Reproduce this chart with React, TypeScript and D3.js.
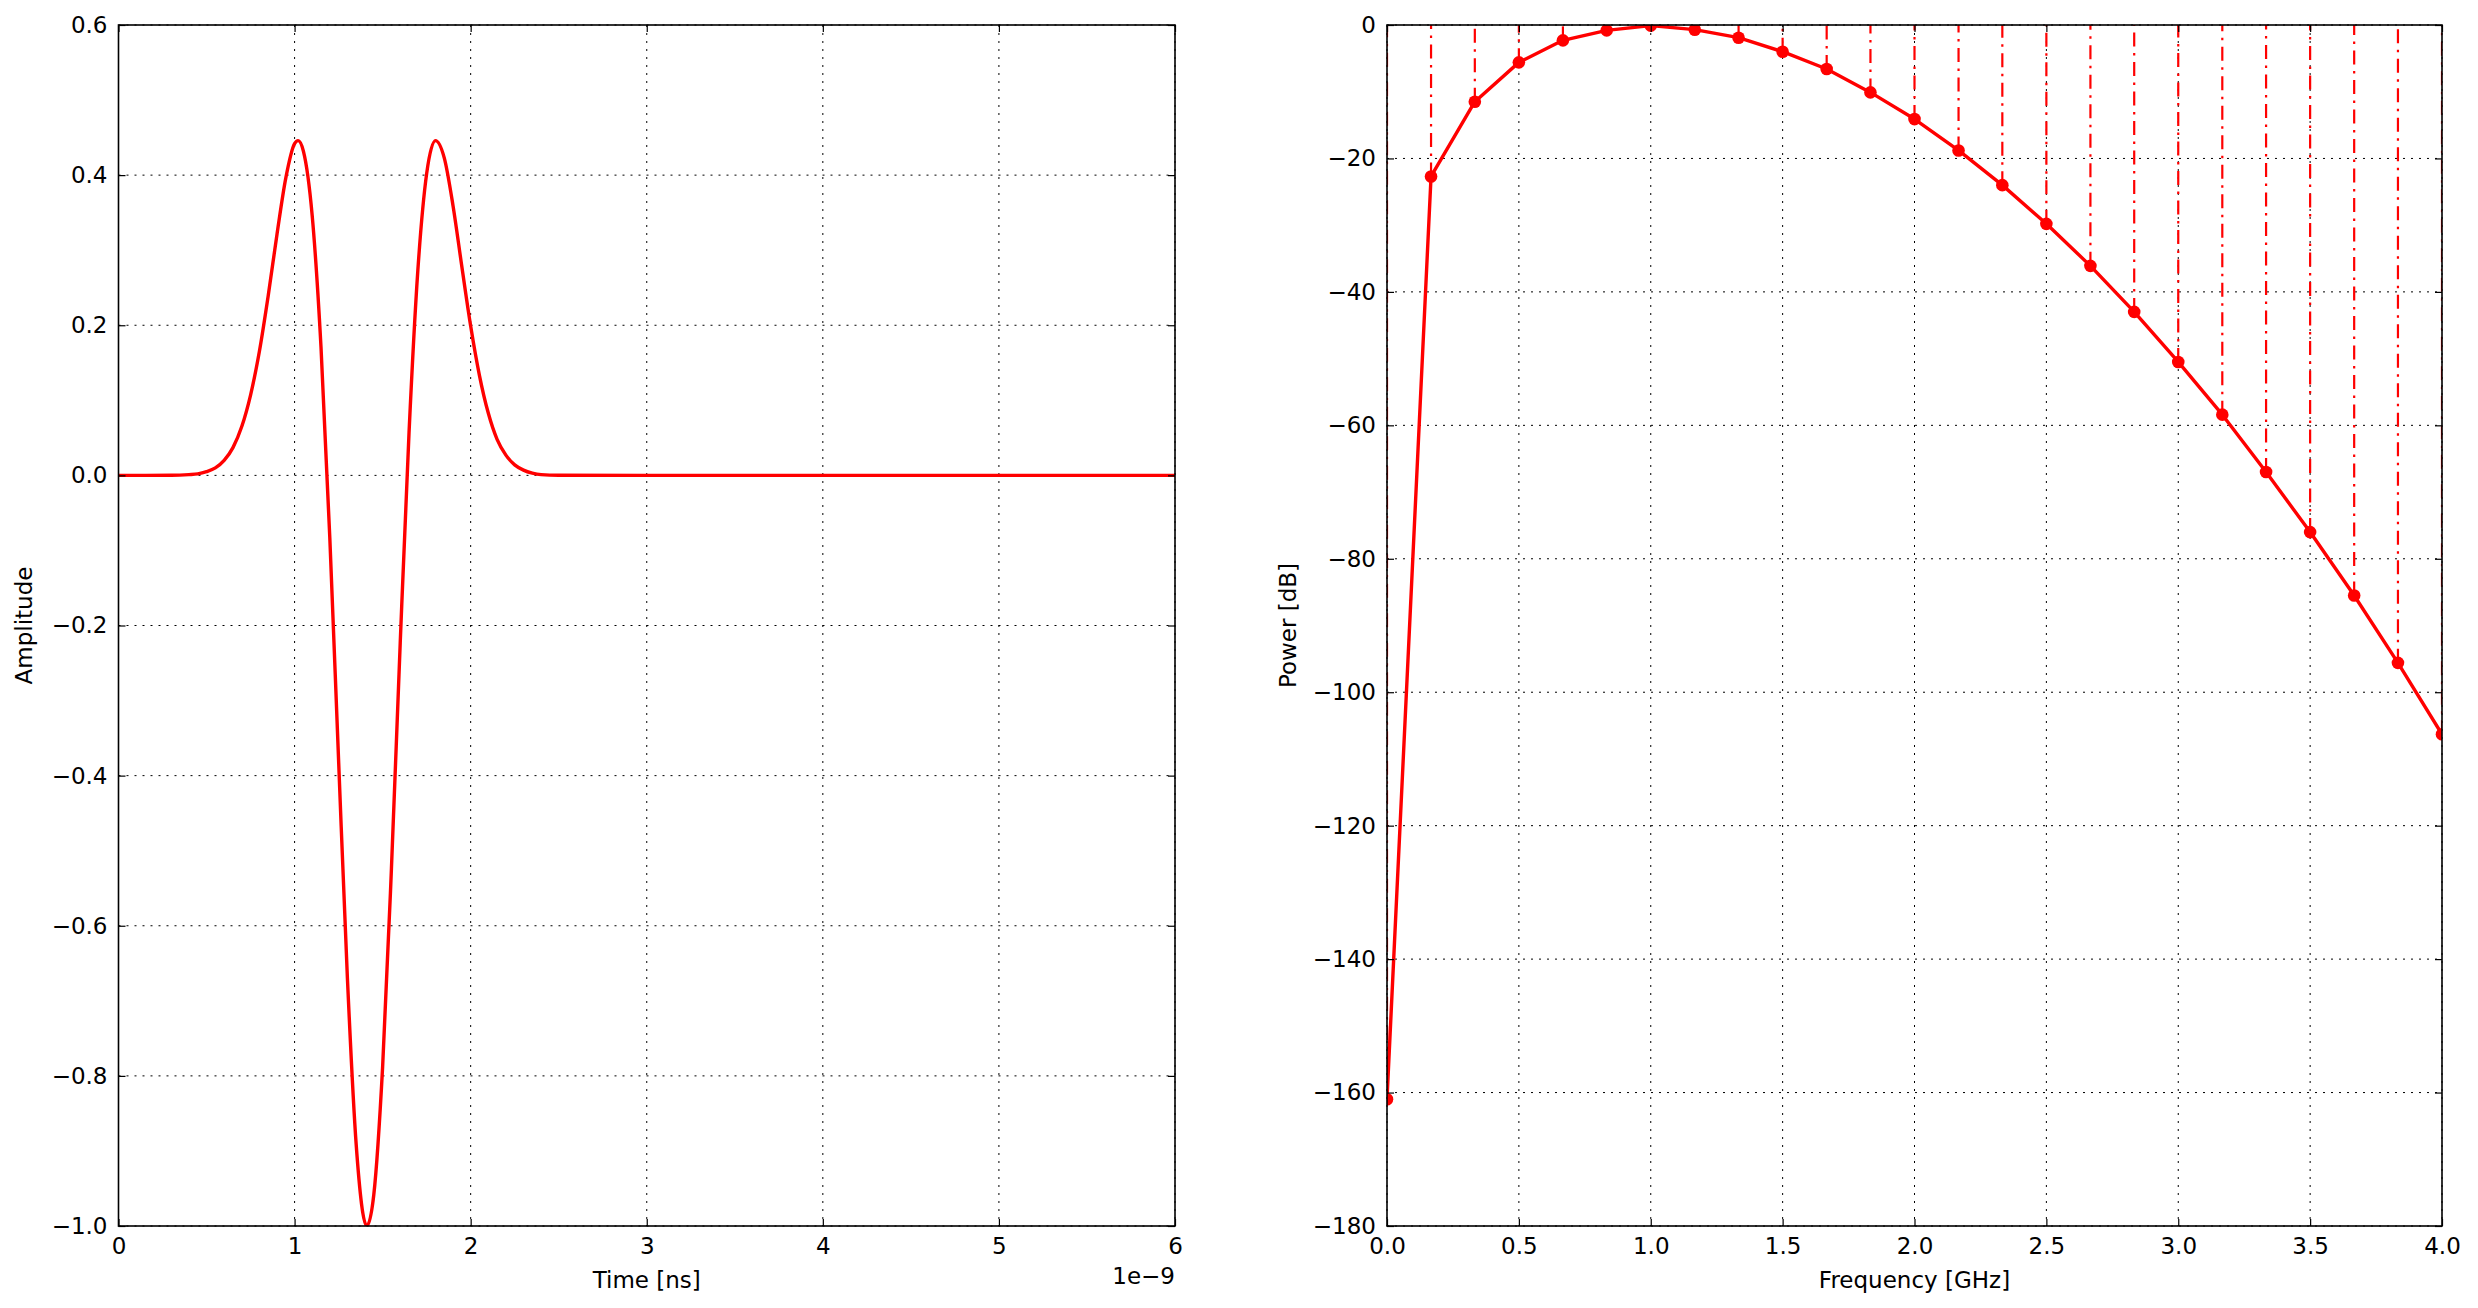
import { useEffect, useRef } from "react";
import * as d3 from "d3";

// Left panel: pulse (time in ns, amplitude)
const pulseTime = [
  0, 0.3, 0.4, 0.45, 0.5, 0.55, 0.6, 0.65, 0.7, 0.75, 0.8, 0.85, 0.9, 0.95, 1.0,
  1.02, 1.05, 1.1, 1.15, 1.2, 1.25, 1.3, 1.35, 1.41, 1.45, 1.5, 1.55, 1.6, 1.65,
  1.7, 1.75, 1.8, 1.85, 1.9, 1.95, 2.0, 2.05, 2.1, 2.15, 2.2, 2.25, 2.3, 2.35,
  2.4, 2.5, 3.0, 4.0, 5.0, 6.0,
];
const pulseAmp = [
  0, 0.0001, 0.001, 0.002, 0.005, 0.01, 0.02, 0.037, 0.065, 0.107, 0.165, 0.239,
  0.321, 0.396, 0.442, 0.446, 0.432, 0.346, 0.171, -0.083, -0.38, -0.67, -0.892,
  -1.0, -0.958, -0.788, -0.524, -0.223, 0.057, 0.273, 0.402, 0.446, 0.423, 0.359,
  0.278, 0.199, 0.133, 0.083, 0.048, 0.027, 0.014, 0.007, 0.003, 0.001, 0.0002,
  0, 0, 0, 0,
];

// Right panel: spectrum samples (GHz, dB)
const freqGHz = [
  0, 0.167, 0.333, 0.5, 0.667, 0.833, 1.0, 1.167, 1.333, 1.5, 1.667, 1.833, 2.0,
  2.167, 2.333, 2.5, 2.667, 2.833, 3.0, 3.167, 3.333, 3.5, 3.667, 3.833, 4.0,
];
const powerDb = [
  -161, -22.7, -11.5, -5.6, -2.3, -0.8, -0.1, -0.7, -1.9, -4.0, -6.6, -10.1,
  -14.1, -18.8, -24.0, -29.8, -36.1, -43.0, -50.5, -58.4, -67.0, -76.0, -85.5,
  -95.6, -106.3,
];

const timeTicks = [0, 1, 2, 3, 4, 5, 6];
const ampTicks = [0.6, 0.4, 0.2, 0.0, -0.2, -0.4, -0.6, -0.8, -1.0];
const freqTicks = [0, 0.5, 1.0, 1.5, 2.0, 2.5, 3.0, 3.5, 4.0];
const powerTicks = [0, -20, -40, -60, -80, -100, -120, -140, -160, -180];

const W = 2478;
const H = 1308;
const top = 25;
const bottom = 1226;
const leftBox = { x0: 118.5, x1: 1175 };
const rightBox = { x0: 1387, x1: 2442 };
const font = "DejaVu Sans";
const fs = 23;
const red = "#ff0000";

type G = d3.Selection<SVGGElement, unknown, null, undefined>;

function drawFrame(
  g: G,
  x: d3.ScaleLinear<number, number>,
  y: d3.ScaleLinear<number, number>,
  xTicks: number[],
  yTicks: number[],
  xFmt: (d: number) => string,
  yFmt: (d: number) => string
) {
  const [x0, x1] = x.range();
  const [y1, y0] = y.range();

  // ticks inside on all four sides
  const axes = [
    { ax: d3.axisBottom(x).tickValues(xTicks).tickFormat((d) => xFmt(+d)), tr: `translate(0,${y1})` },
    { ax: d3.axisTop(x).tickValues(xTicks).tickFormat(() => ""), tr: `translate(0,${y0})` },
    { ax: d3.axisLeft(y).tickValues(yTicks).tickFormat((d) => yFmt(+d)), tr: `translate(${x0},0)` },
    { ax: d3.axisRight(y).tickValues(yTicks).tickFormat(() => ""), tr: `translate(${x1},0)` },
  ];
  axes.forEach(({ ax, tr }, i) => {
    const a = g
      .append("g")
      .attr("transform", tr)
      .call(ax.tickSizeInner(-7).tickSizeOuter(0).tickPadding(i === 2 ? 11 : 11.5));
    a.select(".domain").remove();
    a.selectAll("line").attr("stroke", "#000").attr("stroke-width", 1.2);
    a.selectAll("text")
      .attr("fill", "#000")
      .style("font-family", font)
      .style("font-size", `${fs}px`);
  });

  g.append("rect")
    .attr("x", x0)
    .attr("y", y0)
    .attr("width", x1 - x0)
    .attr("height", y1 - y0)
    .attr("fill", "none")
    .attr("stroke", "#000")
    .attr("stroke-width", 1.6);
}

function drawGrid(
  g: G,
  x: d3.ScaleLinear<number, number>,
  y: d3.ScaleLinear<number, number>,
  xTicks: number[],
  yTicks: number[]
) {
  const [x0, x1] = x.range();
  const [y1, y0] = y.range();
  const grid = g
    .append("g")
    .attr("stroke", "#000")
    .attr("stroke-width", 1)
    .attr("stroke-dasharray", "2,6");
  grid
    .selectAll(".gx")
    .data(xTicks)
    .join("line")
    .attr("x1", (d) => x(d))
    .attr("x2", (d) => x(d))
    .attr("y1", y0)
    .attr("y2", y1);
  grid
    .selectAll(".gy")
    .data(yTicks)
    .join("line")
    .attr("x1", x0)
    .attr("x2", x1)
    .attr("y1", (d) => y(d))
    .attr("y2", (d) => y(d));
}

export default function App() {
  const ref = useRef<SVGSVGElement>(null);

  useEffect(() => {
    document.body.style.margin = "0";
    const svg = d3.select(ref.current);
    svg.selectAll("*").remove();

    const defs = svg.append("defs");
    [leftBox, rightBox].forEach((b, i) => {
      defs
        .append("clipPath")
        .attr("id", `clip${i}`)
        .append("rect")
        .attr("x", b.x0)
        .attr("y", top)
        .attr("width", b.x1 - b.x0)
        .attr("height", bottom - top);
    });

    // ---- left: time domain pulse
    const xT = d3.scaleLinear().domain([0, 6]).range([leftBox.x0, leftBox.x1]);
    const yA = d3.scaleLinear().domain([-1.0, 0.6]).range([bottom, top]);
    const gl = svg.append("g");
    drawGrid(gl, xT, yA, timeTicks, ampTicks);

    const pulse = pulseTime.map((t, i) => [t, pulseAmp[i]] as [number, number]);
    gl.append("path")
      .datum(pulse)
      .attr("clip-path", "url(#clip0)")
      .attr("fill", "none")
      .attr("stroke", red)
      .attr("stroke-width", 3.4)
      .attr("stroke-linejoin", "round")
      .attr(
        "d",
        d3
          .line<[number, number]>()
          .x((d) => xT(d[0]))
          .y((d) => yA(d[1]))
          .curve(d3.curveMonotoneX)
      );

    drawFrame(gl, xT, yA, timeTicks, ampTicks, d3.format("d"), d3.format(".1f"));

    gl.append("text")
      .attr("transform", `translate(32,${(top + bottom) / 2}) rotate(-90)`)
      .attr("text-anchor", "middle")
      .style("font-family", font)
      .style("font-size", `${fs}px`)
      .text("Amplitude");
    gl.append("text")
      .attr("x", (leftBox.x0 + leftBox.x1) / 2)
      .attr("y", 1288)
      .attr("text-anchor", "middle")
      .style("font-family", font)
      .style("font-size", `${fs}px`)
      .text("Time [ns]");
    gl.append("text")
      .attr("x", leftBox.x1)
      .attr("y", 1284)
      .attr("text-anchor", "end")
      .style("font-family", font)
      .style("font-size", `${fs}px`)
      .text("1e\u22129");

    // ---- right: spectrum
    const xF = d3.scaleLinear().domain([0, 4]).range([rightBox.x0, rightBox.x1]);
    const yP = d3.scaleLinear().domain([-180, 0]).range([bottom, top]);
    const gr = svg.append("g");
    drawGrid(gr, xF, yP, freqTicks, powerTicks);

    const spec = freqGHz.map((f, i) => [f, powerDb[i]] as [number, number]);

    gr.append("g")
      .attr("clip-path", "url(#clip1)")
      .selectAll("line")
      .data(spec)
      .join("line")
      .attr("x1", (d) => xF(d[0]))
      .attr("x2", (d) => xF(d[0]))
      .attr("y1", (d) => yP(d[1]))
      .attr("y2", yP(0))
      .attr("stroke", red)
      .attr("stroke-width", 2.2)
      .attr("stroke-dasharray", "14,6.5,2.5,6.5");

    const plot = gr.append("g").attr("clip-path", "url(#clip1)");
    plot
      .append("path")
      .datum(spec)
      .attr("fill", "none")
      .attr("stroke", red)
      .attr("stroke-width", 3.4)
      .attr("stroke-linejoin", "round")
      .attr(
        "d",
        d3
          .line<[number, number]>()
          .x((d) => xF(d[0]))
          .y((d) => yP(d[1]))
      );
    plot
      .selectAll("circle")
      .data(spec)
      .join("circle")
      .attr("cx", (d) => xF(d[0]))
      .attr("cy", (d) => yP(d[1]))
      .attr("r", 6.3)
      .attr("fill", red);

    drawFrame(gr, xF, yP, freqTicks, powerTicks, d3.format(".1f"), d3.format("d"));

    gr.append("text")
      .attr("transform", `translate(1296,${(top + bottom) / 2}) rotate(-90)`)
      .attr("text-anchor", "middle")
      .style("font-family", font)
      .style("font-size", `${fs}px`)
      .text("Power [dB]");
    gr.append("text")
      .attr("x", (rightBox.x0 + rightBox.x1) / 2)
      .attr("y", 1288)
      .attr("text-anchor", "middle")
      .style("font-family", font)
      .style("font-size", `${fs}px`)
      .text("Frequency [GHz]");
  }, []);

  return (
    <svg
      ref={ref}
      width={W}
      height={H}
      style={{ display: "block", background: "#fff" }}
    />
  );
}
